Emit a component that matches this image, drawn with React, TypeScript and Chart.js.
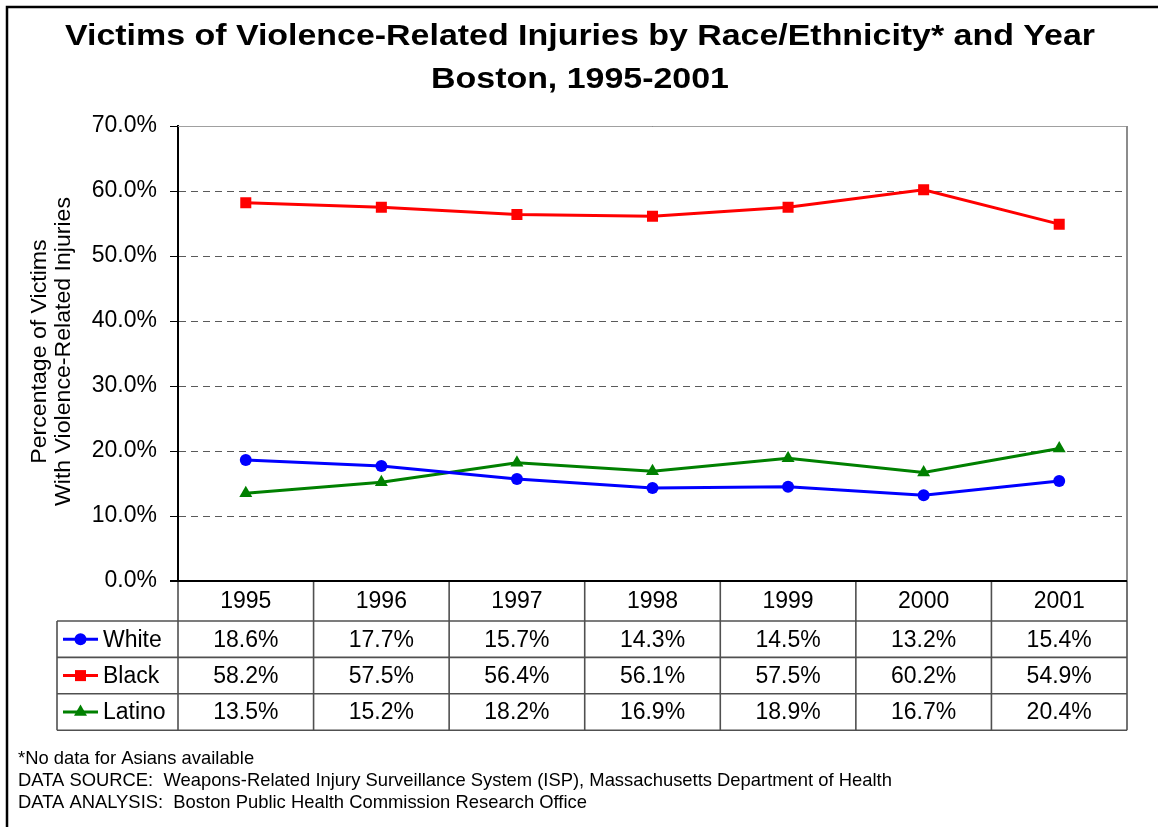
import React, { useEffect, useRef } from 'react';
import { Chart, registerables } from 'chart.js';

Chart.register(...registerables);

const years = ['1995', '1996', '1997', '1998', '1999', '2000', '2001'];
const white = [18.6, 17.7, 15.7, 14.3, 14.5, 13.2, 15.4];
const black = [58.2, 57.5, 56.4, 56.1, 57.5, 60.2, 54.9];
const latino = [13.5, 15.2, 18.2, 16.9, 18.9, 16.7, 20.4];

const seriesNames = ['White', 'Black', 'Latino'];
const seriesValues = [white, black, latino];
const seriesColors = ['#0000FF', '#FF0000', '#008000'];
const seriesPointStyles = ['circle', 'rect', 'triangle'];
const seriesPointRadius = [6, 7.8, 7.5];

const yMin = 0;
const yMax = 70;
const yStep = 10;

const titleLines = [
  'Victims of Violence-Related Injuries by Race/Ethnicity* and Year',
  'Boston, 1995-2001',
];
const yTitleLines = ['Percentage of Victims', 'With Violence-Related Injuries'];
const footnotes = [
  '*No data for Asians available',
  'DATA SOURCE:  Weapons-Related Injury Surveillance System (ISP), Massachusetts Department of Health',
  'DATA ANALYSIS:  Boston Public Health Commission Research Office',
];

const FONT = '"Liberation Sans", Arial, Helvetica, sans-serif';
const W = 1158;
const H = 827;

function drawMarker(ctx: CanvasRenderingContext2D, style: string, x: number, y: number, r: number, color: string) {
  ctx.save();
  ctx.fillStyle = color;
  ctx.beginPath();
  if (style === 'circle') {
    ctx.arc(x, y, r, 0, Math.PI * 2);
  } else if (style === 'rect') {
    const s = Math.SQRT1_2 * r;
    ctx.rect(x - s, y - s, 2 * s, 2 * s);
  } else {
    ctx.moveTo(x, y - r);
    ctx.lineTo(x + r * 0.866, y + r * 0.5);
    ctx.lineTo(x - r * 0.866, y + r * 0.5);
    ctx.closePath();
  }
  ctx.fill();
  ctx.restore();
}

const decorPlugin = {
  id: 'decor',
  afterDraw(chart: any) {
    const ctx: CanvasRenderingContext2D = chart.ctx;
    const { left, right, top, bottom } = chart.chartArea;
    const n = years.length;
    const colW = (right - left) / n;

    ctx.save();

    // plot area top/right border
    ctx.strokeStyle = '#a0a0a0';
    ctx.lineWidth = 1;
    ctx.beginPath();
    ctx.moveTo(left, top + 0.5);
    ctx.lineTo(right, top + 0.5);
    ctx.stroke();
    ctx.strokeStyle = '#8c8c8c';
    ctx.lineWidth = 2;
    ctx.beginPath();
    ctx.moveTo(right, top);
    ctx.lineTo(right, bottom);
    ctx.stroke();

    // table
    const headerH = 40;
    const rowH = 36.4;
    const legendLeft = 57;
    const rowTops = [bottom, bottom + headerH];
    for (let i = 1; i <= seriesNames.length; i++) rowTops.push(bottom + headerH + rowH * i);
    const tableBottom = rowTops[rowTops.length - 1];

    ctx.strokeStyle = '#505050';
    ctx.lineWidth = 1.6;
    for (let i = 1; i < rowTops.length; i++) {
      ctx.beginPath();
      ctx.moveTo(legendLeft, rowTops[i]);
      ctx.lineTo(right, rowTops[i]);
      ctx.stroke();
    }
    ctx.beginPath();
    ctx.moveTo(legendLeft, rowTops[1]);
    ctx.lineTo(legendLeft, tableBottom);
    ctx.stroke();
    for (let i = 0; i <= n; i++) {
      const x = left + colW * i;
      ctx.beginPath();
      ctx.moveTo(x, bottom);
      ctx.lineTo(x, tableBottom);
      ctx.stroke();
    }
    // axis bottom line (0%)
    ctx.strokeStyle = '#000';
    ctx.lineWidth = 2;
    ctx.beginPath();
    ctx.moveTo(left - 8, bottom);
    ctx.lineTo(right, bottom);
    ctx.stroke();

    // header text
    ctx.fillStyle = '#000';
    ctx.font = `23px ${FONT}`;
    ctx.textAlign = 'center';
    ctx.textBaseline = 'middle';
    const xs = chart.scales.x;
    years.forEach((yr, i) => {
      ctx.fillText(yr, xs.getPixelForValue(i), (rowTops[0] + rowTops[1]) / 2 + 1);
    });
    seriesNames.forEach((name, s) => {
      const cy = (rowTops[s + 1] + rowTops[s + 2]) / 2 + 1;
      ctx.textAlign = 'center';
      seriesValues[s].forEach((v, i) => {
        ctx.fillText(v.toFixed(1) + '%', xs.getPixelForValue(i), cy);
      });
      ctx.strokeStyle = seriesColors[s];
      ctx.lineWidth = 3;
      ctx.beginPath();
      ctx.moveTo(63, cy - 1);
      ctx.lineTo(98, cy - 1);
      ctx.stroke();
      drawMarker(ctx, seriesPointStyles[s], 80.5, cy - 1, seriesPointRadius[s], seriesColors[s]);
      ctx.fillStyle = '#000';
      ctx.textAlign = 'left';
      ctx.fillText(name, 103, cy);
    });

    // title
    ctx.font = `bold 29.5px ${FONT}`;
    ctx.textAlign = 'center';
    ctx.textBaseline = 'alphabetic';
    const titleBaselines = [45, 88];
    titleLines.forEach((t, i) => {
      ctx.save();
      ctx.translate(W / 2 + 1, titleBaselines[i]);
      ctx.scale(1.15, 1);
      ctx.fillText(t, 0, 0);
      ctx.restore();
    });

    // y axis title
    ctx.font = `22px ${FONT}`;
    ctx.textAlign = 'center';
    ctx.textBaseline = 'middle';
    const yTitleX = [40, 64];
    const cyMid = (top + bottom) / 2;
    yTitleLines.forEach((t, i) => {
      ctx.save();
      ctx.translate(yTitleX[i], cyMid - 2);
      ctx.rotate(-Math.PI / 2);
      ctx.scale(1.05, 1);
      ctx.fillText(t, 0, 0);
      ctx.restore();
    });

    // footnotes
    ctx.font = `18.4px ${FONT}`;
    ctx.textAlign = 'left';
    ctx.textBaseline = 'alphabetic';
    const footBaselines = [764, 786, 808];
    footnotes.forEach((t, i) => ctx.fillText(t, 18, footBaselines[i]));

    // outer border (right/bottom off-canvas)
    ctx.strokeStyle = '#000';
    ctx.lineWidth = 2.5;
    ctx.strokeRect(7, 7, W + 50, H + 50);

    ctx.restore();
  },
};

export default function App() {
  const canvasRef = useRef<HTMLCanvasElement | null>(null);

  useEffect(() => {
    document.body.style.margin = '0';
    const canvas = canvasRef.current;
    if (!canvas) return;
    const chart = new Chart(canvas, {
      type: 'line',
      data: {
        labels: years,
        datasets: seriesNames.map((name, s) => ({
          label: name,
          data: seriesValues[s],
          borderColor: seriesColors[s],
          backgroundColor: seriesColors[s],
          pointBackgroundColor: seriesColors[s],
          pointBorderColor: seriesColors[s],
          pointBorderWidth: 0,
          pointStyle: seriesPointStyles[s] as any,
          pointRadius: seriesPointRadius[s],
          borderWidth: 3,
          tension: 0,
          fill: false,
        })),
      },
      options: {
        responsive: false,
        animation: false,
        devicePixelRatio: 1,
        layout: { padding: { top: 126, bottom: 246, left: 0, right: 31 } },
        plugins: {
          legend: { display: false },
          title: { display: false },
          tooltip: { enabled: false },
        },
        scales: {
          x: {
            type: 'category',
            offset: true,
            display: false,
          },
          y: {
            min: yMin,
            max: yMax,
            afterFit: (s: any) => {
              s.width = 178;
            },
            ticks: {
              stepSize: yStep,
              color: '#000',
              padding: 13,
              font: { family: FONT, size: 23 },
              callback: (v: any) => Number(v).toFixed(1) + '%',
            },
            grid: {
              color: (c: any) => (c.tick && c.tick.value === 0 ? 'rgba(0,0,0,0)' : '#5a5a5a'),
              lineWidth: 1,
              drawTicks: true,
              tickLength: 8,
              tickColor: '#000',
              tickWidth: 1,
            },
            border: { display: true, color: '#000', width: 2, dash: [7, 5] },
          },
        },
      },
      plugins: [decorPlugin],
    });
    return () => chart.destroy();
  }, []);

  return <canvas ref={canvasRef} width={W} height={H} style={{ display: 'block' }} />;
}
